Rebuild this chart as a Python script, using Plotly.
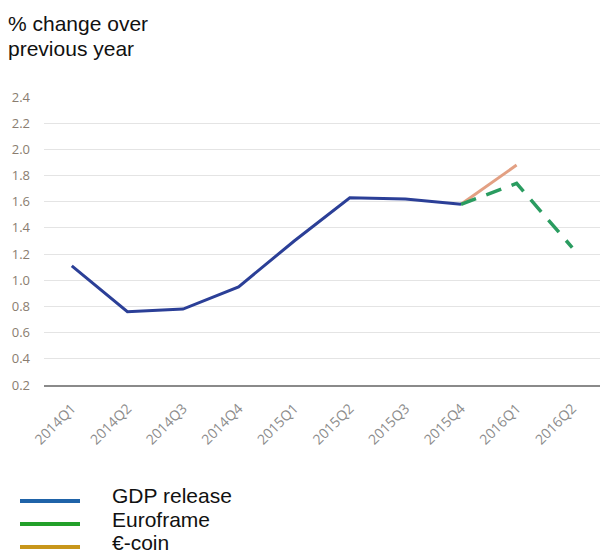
import plotly.graph_objects as go

quarters = ["2014Q1", "2014Q2", "2014Q3", "2014Q4", "2015Q1", "2015Q2",
            "2015Q3", "2015Q4", "2016Q1", "2016Q2"]
gdp_x = quarters[:8]
gdp_y = [1.11, 0.76, 0.78, 0.95, 1.30, 1.63, 1.62, 1.58]
euroframe_x = ["2015Q4", "2016Q1", "2016Q2"]
euroframe_y = [1.58, 1.74, 1.25]
ecoin_x = ["2015Q4", "2016Q1"]
ecoin_y = [1.58, 1.88]
y_ticks = [0.2, 0.4, 0.6, 0.8, 1.0, 1.2, 1.4, 1.6, 1.8, 2.0, 2.2, 2.4]
legend_names = ["GDP release", "Euroframe", "€-coin"]
legend_colors = ["#1f63a8", "#22a02a", "#c8961a"]

fig = go.Figure()
fig.add_trace(go.Scatter(x=ecoin_x, y=ecoin_y, mode="lines",
                         line=dict(color="#e3a083", width=3), showlegend=False))
fig.add_trace(go.Scatter(x=euroframe_x, y=euroframe_y, mode="lines",
                         line=dict(color="#2a9c60", width=3.5, dash="16px,11px"),
                         showlegend=False))
fig.add_trace(go.Scatter(x=gdp_x, y=gdp_y, mode="lines",
                         line=dict(color="#2b3f97", width=3), showlegend=False))

H = 552
top, bottom = 97, 385
ph = bottom - top
pw = 600 - 44
FONT = "Liberation Sans, Arial"


def px_x(x):
    return (x - 44) / pw


def px_y(y):
    return (bottom - y) / ph


line_ys = [501, 524, 547]
text_ys = [495, 519, 542]
for name, col, ly, ty in zip(legend_names, legend_colors, line_ys, text_ys):
    fig.add_shape(type="line", xref="paper", yref="paper",
                  x0=px_x(20), x1=px_x(80), y0=px_y(ly), y1=px_y(ly),
                  line=dict(color=col, width=4))
    fig.add_annotation(text=name, xref="paper", yref="paper",
                       x=px_x(110), y=px_y(ty), xanchor="left", yanchor="middle",
                       showarrow=False,
                       font=dict(family=FONT, size=21, color="#111"))

for txt, ty in zip(["% change over", "previous year"], [23, 48]):
    fig.add_annotation(text=txt, xref="paper", yref="paper",
                       x=px_x(6), y=px_y(ty), xanchor="left", yanchor="middle",
                       showarrow=False, align="left",
                       font=dict(family=FONT, size=21, color="#111"))

fig.update_layout(
    width=600, height=552,
    margin=dict(l=44, r=0, t=top, b=H - bottom),
    plot_bgcolor="white", paper_bgcolor="white",
    xaxis=dict(type="category", categoryorder="array", categoryarray=quarters,
               range=[-0.5, 9.5], tickangle=-45, showgrid=False,
               showline=True, linecolor="#8a8a8a", linewidth=1.5,
               tickfont=dict(family="Open Sans", size=14, color="#8c8c8c"),
               ticks="", zeroline=False, ticklabelstandoff=8),
    yaxis=dict(range=[0.2, 2.4], tickvals=y_ticks,
               ticktext=[f"{v:.1f}" for v in y_ticks],
               showgrid=True, gridcolor="#e4e4e4", gridwidth=1,
               tickfont=dict(family="Open Sans", size=13, color="#8a7d70"),
               zeroline=False, ticks="", ticklabelstandoff=13),
)

fig.write_html("out.html")
